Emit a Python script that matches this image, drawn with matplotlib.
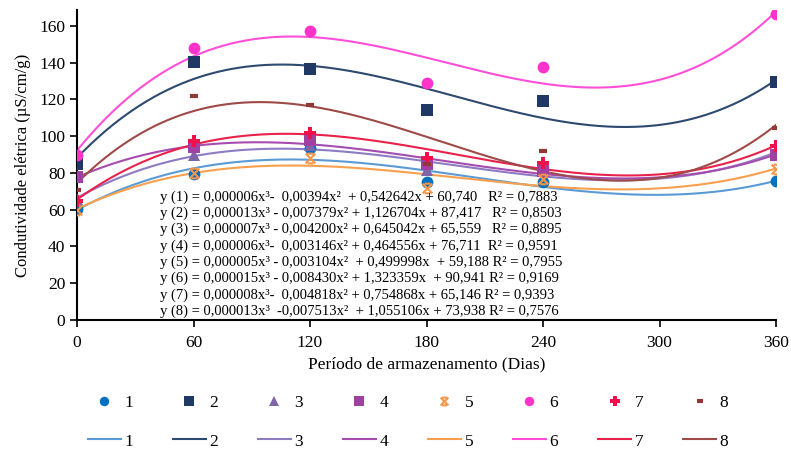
import numpy as np
import matplotlib.pyplot as plt
from matplotlib.path import Path
from matplotlib.lines import Line2D

plt.rcParams['font.family'] = ['Liberation Serif', 'DejaVu Serif']

# Storage period (days) and electrical conductivity per lot
dias = [0, 60, 120, 180, 240, 360]
lote1 = [60.5, 79.3, 93.8, 75.0, 75.0, 75.6]
lote2 = [84.7, 140.2, 136.4, 114.3, 119.3, 129.4]
lote3 = [66.0, 89.7, 95.0, 81.6, 81.0, 91.0]
lote4 = [77.6, 94.2, 97.8, 85.0, 81.0, 90.0]
lote5 = [60.0, 80.0, 88.0, 72.0, 77.0, 82.0]
lote6 = [90.0, 147.9, 157.5, 129.2, 137.7, 166.7]
lote7 = [64.6, 97.4, 102.0, 88.0, 85.6, 94.6]
lote8 = [71.0, 122.0, 117.0, 84.7, 92.0, 104.7]
nomes = ['1', '2', '3', '4', '5', '6', '7', '8']

equacoes = [
    "y (1) = 0,000006x³-  0,00394x²  + 0,542642x + 60,740   R² = 0,7883",
    "y (2) = 0,000013x³ - 0,007379x² + 1,126704x + 87,417   R² = 0,8503",
    "y (3) = 0,000007x³ - 0,004200x² + 0,645042x + 65,559   R² = 0,8895",
    "y (4) = 0,000006x³-  0,003146x² + 0,464556x + 76,711  R² = 0,9591",
    "y (5) = 0,000005x³ - 0,003104x²  + 0,499998x  + 59,188 R² = 0,7955",
    "y (6) = 0,000015x³ - 0,008430x² + 1,323359x  + 90,941 R² = 0,9169",
    "y (7) = 0,000008x³-  0,004818x² + 0,754868x + 65,146 R² = 0,9393",
    "y (8) = 0,000013x³  -0,007513x²  + 1,055106x + 73,938 R² = 0,7576",
]

# custom asterisk: an X with short bars top and bottom
star = Path([(-1, -1), (1, 1), (-1, 1), (1, -1), (-0.6, 1), (0.6, 1), (-0.6, -1), (0.6, -1)],
            [Path.MOVETO, Path.LINETO] * 4)

cor_marcador = ['#0070C0', '#1F3864', '#7F64A8', '#A040A0', '#F79646', '#FF33CC', '#F0104A', '#943634']
cor_linha = ['#5B9BD5', '#2E4A70', '#8E7CC3', '#A64CB0', '#F9A04E', '#FF4FD8', '#E8224A', '#9E4A48']
marcadores = ['o', 's', '^', 's', star, 'o', 'P', '_']
tam = [8.5, 8.5, 8.5, 8.5, 7, 8.5, 9, 6]
mew = [0, 0, 0, 0, 1.5, 0, 0, 3]

series = [lote1, lote2, lote3, lote4, lote5, lote6, lote7, lote8]

fig = plt.figure(figsize=(7.91, 4.5), dpi=100)
ax = fig.add_axes([77 / 791, 1 - 320 / 450, 699 / 791, 310 / 450])

xs = np.linspace(0, 360, 300)
for i, ys in enumerate(series):
    coef = np.polyfit(dias, ys, 3)
    ax.plot(xs, np.polyval(coef, xs), color=cor_linha[i], lw=1.5, zorder=2)

for i, ys in enumerate(series):
    ax.plot(dias, ys, ls='none', marker=marcadores[i], ms=tam[i],
            color=cor_marcador[i], mec=cor_marcador[i], mew=mew[i], zorder=3)

ax.set_xlim(0, 360)
ax.set_ylim(0, 168.7)
ax.set_xticks(range(0, 361, 60))
ax.set_yticks(range(0, 161, 20))
ax.spines['top'].set_visible(False)
ax.spines['right'].set_visible(False)
ax.spines['left'].set_linewidth(1.5)
ax.spines['bottom'].set_linewidth(1.5)
ax.tick_params(axis='both', direction='out', length=5, width=1.2, labelsize=12.5)
ax.tick_params(axis='x', pad=6)
ax.set_xlabel('Período de armazenamento (Dias)', fontsize=12.5, labelpad=4)
ax.set_ylabel('Condutividade elétrica (µS/cm/g)', fontsize=12, labelpad=6)

for k, eq in enumerate(equacoes):
    ax.text(42.5, 67 - 8.9 * k, eq, fontsize=10.5, va='center', ha='left')

# legend: markers on the first row, trend lines on the second
handles = []
labels = []
for i in range(8):
    handles.append(Line2D([], [], ls='none', marker=marcadores[i], ms=tam[i] * 0.8,
                          color=cor_marcador[i], mec=cor_marcador[i], mew=mew[i]))
    labels.append(nomes[i])
    handles.append(Line2D([], [], color=cor_linha[i], lw=1.5))
    labels.append(nomes[i])

fig.legend(handles, labels, ncol=8, loc='center', bbox_to_anchor=(0.5156, 0.062),
           frameon=False, fontsize=12.5, handlelength=1.9, handletextpad=0.2,
           columnspacing=2.3, labelspacing=1.3)

fig.savefig('out.png', dpi=100)
